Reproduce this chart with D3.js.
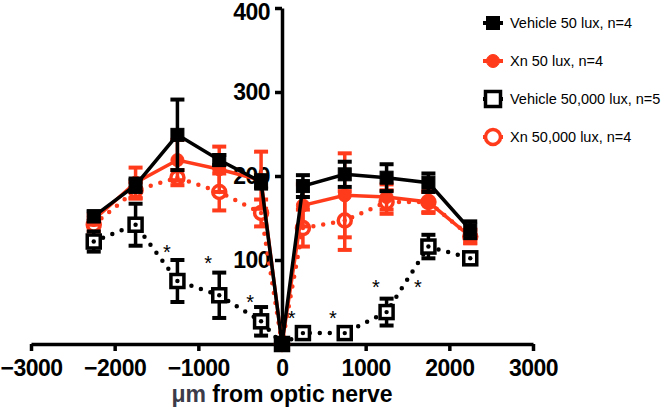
<!DOCTYPE html>
<html>
<head>
<meta charset="utf-8">
<script src="https://cdn.jsdelivr.net/npm/d3@7"></script>
<style>
  body { margin: 0; background: #fff; }
  svg { display: block; font-family: Arial, "Liberation Sans", Helvetica, sans-serif; }
</style>
</head>
<body>
<div id="graf"></div>
<script>
// datos
const posiciones = [-2250, -1750, -1250, -750, -250, 0, 250, 750, 1250, 1750, 2250]
const vehiculo50 = [152, 189, 249, 219, 193, 0, 188, 202, 198, 192, 136]
const vehiculo50Err = [6, 8, 42, 6, 8, 0, 13, 15, 16, 11, 10]
const xn50 = [148, 192, 219, 208, 195, 0, 165, 177, 175, 169, 128]
const xn50Err = [6, 18, 24, 27, 34, 0, 25, 50, 15, 12, 8]
const vehiculo50k = [122, 142, 75, 58, 27, 0, 13, 13, 38, 116, 102]
const vehiculo50kErr = [12, 25, 25, 27, 17, 0, 4, 4, 16, 14, 5]
const xn50k = [142, 183, 198, 181, 156, 0, 138, 147, 169, 169, 128]
const xn50kErr = [8, 10, 9, 22, 16, 0, 22, 35, 14, 13, 8]
const etiquetas = ['Vehicle 50 lux, n=4', 'Xn 50 lux, n=4', 'Vehicle 50,000 lux, n=5', 'Xn 50,000 lux, n=4']
// asteriscos de significancia [x, y] en unidades de datos
const asteriscos = [[-1376, 116], [-883, 102], [-382, 56], [116, 37], [609, 37], [1122, 74], [1623, 74]]
const ticksX = [-3000, -2000, -1000, 0, 1000, 2000, 3000]
const ticksY = [100, 200, 300, 400]

const rojo = '#ff3b1c'
const negro = '#000'

const ancho_total = 663, alto_total = 408
const svg = d3.select('#graf').append('svg')
  .attr('width', ancho_total).attr('height', alto_total)

// escalas
const x = d3.scaleLinear().domain([-3000, 3000]).range([31, 533])
const y = d3.scaleLinear().domain([0, 400]).range([344, 8])

// ejes
const xAxis = svg.append('g')
  .attr('transform', `translate(0, ${y(0)})`)
  .call(d3.axisBottom(x).tickValues(ticksX).tickSize(7).tickSizeOuter(0).tickPadding(9).tickFormat(d3.format('d')))
const yAxis = svg.append('g')
  .attr('transform', `translate(${x(0)}, 0)`)
  .call(d3.axisLeft(y).tickValues(ticksY).tickSize(7).tickSizeOuter(0).tickPadding(5))

;[xAxis, yAxis].forEach(a => {
  a.select('.domain').attr('stroke', negro).attr('stroke-width', 3.5)
  a.selectAll('.tick line').attr('stroke', negro).attr('stroke-width', 3.5)
  a.selectAll('.tick text').attr('fill', negro)
    .style('font-size', '23px').style('font-weight', 'bold')
    .style('font-family', 'Arial, "Liberation Sans", sans-serif')
    .attr('letter-spacing', '-0.5')
})
// la etiqueta 400 queda pegada al borde superior
yAxis.selectAll('.tick text').filter(d => d === 400).attr('dy', '0.5em')

// titulo del eje x
const titulo = svg.append('text')
  .attr('x', x(0)).attr('y', 402)
  .attr('text-anchor', 'middle')
  .style('font-size', '23px').style('font-weight', 'bold')
titulo.append('tspan').attr('fill', '#3b3b4a').text('μm')
titulo.append('tspan').attr('fill', negro).text(' from optic nerve')

// series
const series = [
  { nombre: etiquetas[3], vals: xn50k, err: xn50kErr, color: rojo, punteado: true, forma: 'circulo', abierto: true },
  { nombre: etiquetas[1], vals: xn50, err: xn50Err, color: rojo, punteado: false, forma: 'circulo', abierto: false },
  { nombre: etiquetas[2], vals: vehiculo50k, err: vehiculo50kErr, color: negro, punteado: true, forma: 'cuadro', abierto: true },
  { nombre: etiquetas[0], vals: vehiculo50, err: vehiculo50Err, color: negro, punteado: false, forma: 'cuadro', abierto: false }
]

const linea = d3.line().x(d => x(d[0])).y(d => y(d[1]))

function marcador(sel, s, cx, cy, tam) {
  if (s.forma === 'cuadro') {
    sel.append('rect')
      .attr('x', cx - tam / 2).attr('y', cy - tam / 2)
      .attr('width', tam).attr('height', tam)
      .attr('fill', s.abierto ? '#fff' : s.color)
      .attr('stroke', s.color).attr('stroke-width', s.abierto ? 3.5 : 1)
  } else {
    sel.append('circle')
      .attr('cx', cx).attr('cy', cy).attr('r', tam / 2)
      .attr('fill', s.abierto ? '#fff' : s.color)
      .attr('stroke', s.color).attr('stroke-width', s.abierto ? 3.5 : 1)
  }
}

series.forEach(s => {
  const g = svg.append('g')
  const pts = posiciones.map((p, i) => [p, s.vals[i], s.err[i]])

  // barras de error
  pts.filter(d => d[2] > 0).forEach(d => {
    g.append('line')
      .attr('x1', x(d[0])).attr('x2', x(d[0]))
      .attr('y1', y(d[1] - d[2])).attr('y2', y(d[1] + d[2]))
      .attr('stroke', s.color).attr('stroke-width', 3.5)
    ;[d[1] - d[2], d[1] + d[2]].forEach(v => {
      g.append('line')
        .attr('x1', x(d[0]) - 7).attr('x2', x(d[0]) + 7)
        .attr('y1', y(v)).attr('y2', y(v))
        .attr('stroke', s.color).attr('stroke-width', 4)
    })
  })

  // linea
  g.append('path')
    .datum(pts)
    .attr('d', linea)
    .attr('fill', 'none')
    .attr('stroke', s.color)
    .attr('stroke-width', s.punteado ? 4.5 : 3.5)
    .attr('stroke-linecap', s.punteado ? 'round' : 'butt')
    .attr('stroke-dasharray', s.punteado ? '0 10' : null)

  // marcadores
  pts.forEach(d => marcador(g, s, x(d[0]), y(d[1]), 13))
  if (s.abierto) {
    pts.forEach(d => {
      g.append('circle').attr('cx', x(d[0])).attr('cy', y(d[1])).attr('r', 2.2).attr('fill', s.color)
    })
  }
})

// asteriscos
svg.append('g').selectAll('text')
  .data(asteriscos)
  .enter().append('text')
  .attr('x', d => x(d[0])).attr('y', d => y(d[1]) + 12)
  .attr('text-anchor', 'middle')
  .style('font-size', '20px')
  .attr('fill', negro)
  .text('*')

// leyenda
const ordenLeyenda = [series[3], series[1], series[2], series[0]]
const leyenda = svg.append('g')
ordenLeyenda.forEach((s, i) => {
  const ly = 23 + i * 38
  const fila = leyenda.append('g')
  fila.append('line')
    .attr('x1', 483).attr('x2', 503).attr('y1', ly).attr('y2', ly)
    .attr('stroke', s.color).attr('stroke-width', 4)
  marcador(fila, s, 493, ly, s.abierto ? 15 : 13)
  fila.append('text')
    .attr('x', 510).attr('y', ly + 5)
    .style('font-size', '14.5px')
    .attr('fill', negro)
    .text(s.nombre)
})
</script>
</body>
</html>
